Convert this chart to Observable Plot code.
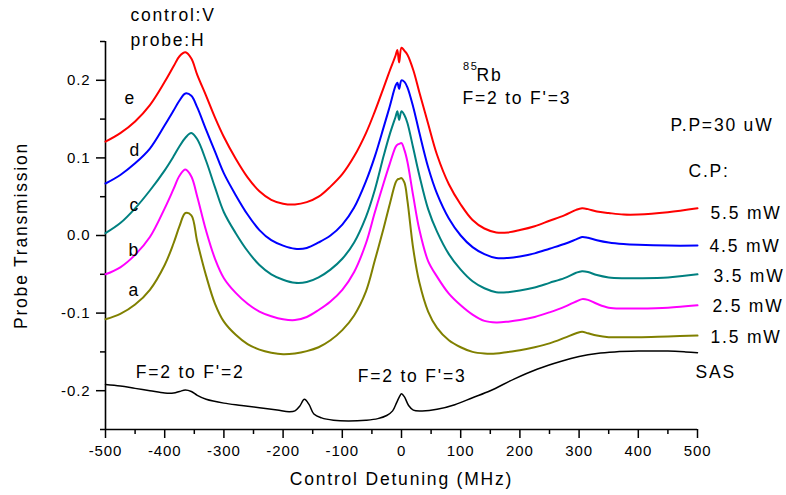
<!DOCTYPE html>
<html>
<head>
<meta charset="utf-8">
<script src="https://cdn.jsdelivr.net/npm/d3@7"></script>
<script src="https://cdn.jsdelivr.net/npm/@observablehq/plot@0.6"></script>
<style>
  html, body { margin: 0; padding: 0; background: #fff; }
  svg text { letter-spacing: 1.8px; }
  svg g[aria-label$="tick label"] text { letter-spacing: 0.9px; }
</style>
</head>
<body>
<div id="chart"></div>
<script>
// Shared detuning grid (MHz) for the five transmission curves
const detuning = [-500,-475,-450,-425,-400,-385,-375,-365,-355,-345,-330,-315,-300,-280,-260,-240,-220,-200,-180,-160,-140,-120,-100,-80,-60,-45,-30,-20,-10,-7,-4,0,5,10,20,30,45,60,80,100,120,140,160,180,200,225,250,275,295,305,315,330,350,375,400,450,500];

// e : 5.5 mW
const curveE = [0.121,0.132,0.147,0.168,0.198,0.218,0.231,0.236,0.228,0.207,0.180,0.152,0.127,0.099,0.075,0.057,0.046,0.041,0.040,0.043,0.050,0.063,0.079,0.102,0.132,0.160,0.191,0.212,0.232,0.239,0.223,0.242,0.238,0.233,0.213,0.185,0.144,0.104,0.066,0.040,0.020,0.009,0.004,0.004,0.007,0.012,0.019,0.026,0.033,0.035,0.034,0.031,0.029,0.027,0.027,0.030,0.035];
// d : 4.5 mW
const curveD = [0.067,0.078,0.093,0.112,0.142,0.161,0.174,0.183,0.180,0.165,0.136,0.108,0.080,0.052,0.027,0.007,-0.006,-0.013,-0.017,-0.016,-0.009,0.000,0.014,0.036,0.070,0.102,0.140,0.166,0.193,0.197,0.189,0.200,0.198,0.191,0.165,0.133,0.088,0.054,0.022,0.000,-0.015,-0.024,-0.029,-0.029,-0.027,-0.023,-0.017,-0.011,-0.005,-0.002,-0.003,-0.006,-0.009,-0.011,-0.012,-0.013,-0.013];
// c : 3.5 mW
const curveC = [0.003,0.016,0.035,0.058,0.084,0.102,0.115,0.126,0.132,0.124,0.096,0.062,0.030,0.003,-0.020,-0.038,-0.050,-0.057,-0.061,-0.060,-0.054,-0.044,-0.030,-0.009,0.024,0.059,0.103,0.130,0.153,0.160,0.149,0.160,0.155,0.145,0.112,0.078,0.034,0.005,-0.024,-0.044,-0.059,-0.068,-0.073,-0.073,-0.071,-0.067,-0.061,-0.055,-0.048,-0.046,-0.047,-0.051,-0.054,-0.055,-0.055,-0.054,-0.050];
// b : 2.5 mW
const curveB = [-0.050,-0.041,-0.025,-0.002,0.035,0.060,0.077,0.085,0.076,0.050,0.006,-0.030,-0.055,-0.074,-0.088,-0.098,-0.104,-0.108,-0.109,-0.105,-0.096,-0.085,-0.070,-0.047,-0.010,0.030,0.068,0.092,0.114,0.117,0.118,0.119,0.110,0.095,0.050,0.008,-0.033,-0.053,-0.075,-0.090,-0.102,-0.110,-0.112,-0.111,-0.109,-0.105,-0.099,-0.092,-0.085,-0.082,-0.083,-0.088,-0.093,-0.094,-0.094,-0.093,-0.090];
// a : 1.5 mW
const curveA = [-0.108,-0.101,-0.089,-0.070,-0.038,-0.010,0.012,0.029,0.026,-0.008,-0.052,-0.088,-0.111,-0.128,-0.140,-0.147,-0.151,-0.153,-0.152,-0.149,-0.144,-0.135,-0.122,-0.103,-0.072,-0.032,0.010,0.040,0.068,0.072,0.073,0.074,0.068,0.045,-0.018,-0.060,-0.098,-0.119,-0.135,-0.144,-0.150,-0.152,-0.152,-0.150,-0.148,-0.144,-0.139,-0.132,-0.126,-0.124,-0.126,-0.129,-0.131,-0.131,-0.131,-0.130,-0.129];

// Saturated absorption spectrum
const sasDetuning = [-500,-475,-450,-425,-400,-385,-375,-365,-355,-345,-330,-300,-270,-240,-210,-190,-180,-172,-164,-156,-148,-135,-115,-90,-60,-40,-25,-15,-8,-3,0,5,12,20,35,60,90,120,150,190,230,270,300,330,360,400,450,480,500];
const sasValues = [-0.192,-0.194,-0.197,-0.200,-0.203,-0.203,-0.201,-0.199,-0.201,-0.206,-0.211,-0.216,-0.219,-0.222,-0.225,-0.227,-0.226,-0.220,-0.211,-0.218,-0.230,-0.235,-0.238,-0.239,-0.238,-0.236,-0.232,-0.226,-0.215,-0.207,-0.204,-0.208,-0.219,-0.225,-0.226,-0.224,-0.218,-0.209,-0.200,-0.185,-0.172,-0.162,-0.156,-0.152,-0.150,-0.149,-0.149,-0.150,-0.151];

const seriesNames = ["e", "d", "c", "b", "a"];
const seriesColors = ["#ff0000", "#0000ff", "#008080", "#ff00ff", "#808000"];
const seriesValues = [curveE, curveD, curveC, curveB, curveA];

const xMajorTicks = [-500,-400,-300,-200,-100,0,100,200,300,400,500];
const xMinorTicks = [-450,-350,-250,-150,-50,50,150,250,350,450];
const yMajorTicks = [-0.2,-0.1,0.0,0.1,0.2];
const yMinorTicks = [-0.25,-0.15,-0.05,0.05,0.15,0.25];

const seriesMarks = seriesValues.map((vals, k) =>
  Plot.line(detuning.map((x, i) => ({x, y: vals[i]})), {
    x: "x", y: "y", stroke: seriesColors[k], strokeWidth: 2, curve: "catmull-rom"
  })
);

const sasRows = sasDetuning.map((x, i) => ({x, y: sasValues[i]}));

// annotations: [text, x (MHz), y (transmission)]
const notes = [
  ["control:V", -457.8, 0.2758],
  ["probe:H", -457.8, 0.2448],
  ["e", -468, 0.170],
  ["d", -459.5, 0.103],
  ["c", -459.5, 0.032],
  ["b", -461, -0.026],
  ["a", -461, -0.0786],
  ["F=2 to F'=2", -449, -0.184],
  ["F=2 to F'=3", -74, -0.189],
  ["Rb", 126.7, 0.1985],
  ["F=2 to F'=3", 103, 0.170],
  ["P.P=30 uW", 454.4, 0.1353],
  ["C.P:", 484.8, 0.076],
  ["5.5 mW", 522, 0.0219],
  ["4.5 mW", 520.3, -0.0219],
  ["3.5 mW", 527, -0.0593],
  ["2.5 mW", 525.3, -0.0992],
  ["1.5 mW", 522, -0.1379],
  ["SAS", 496.6, -0.183]
];
const superNotes = [["85", 103.7, 0.2139]];

const chart = Plot.plot({
  width: 786,
  height: 495,
  marginLeft: 105,
  marginRight: 89,
  marginTop: 41,
  marginBottom: 66,
  style: {fontFamily: "'Liberation Sans', Arial, sans-serif", color: "#000", background: "#fff"},
  x: {domain: [-500, 500]},
  y: {domain: [-0.25, 0.25]},
  marks: [
    Plot.axisX({ticks: xMajorTicks, tickSize: 9, tickPadding: 7, tickFormat: d => String(d), fontSize: 15, label: null, strokeWidth: 1.5}),
    Plot.axisX({ticks: xMinorTicks, tickSize: 5, tickFormat: () => "", label: null, strokeWidth: 1.5}),
    Plot.axisY({ticks: yMajorTicks, tickSize: 9, tickPadding: 6, tickFormat: d => d.toFixed(1), fontSize: 15, label: null, strokeWidth: 1.5}),
    Plot.axisY({ticks: yMinorTicks, tickSize: 5, tickFormat: () => "", label: null, strokeWidth: 1.5}),
    Plot.ruleX([-500], {stroke: "#000", strokeWidth: 1.6}),
    Plot.ruleY([-0.25], {stroke: "#000", strokeWidth: 1.6}),
    ...seriesMarks,
    Plot.line(sasRows, {x: "x", y: "y", stroke: "#000", strokeWidth: 1.5, curve: "catmull-rom"}),
    Plot.text(notes, {x: d => d[1], y: d => d[2], text: d => d[0], textAnchor: "start", lineAnchor: "bottom", fontSize: 17.5, fill: "#000"}),
    Plot.text(superNotes, {x: d => d[1], y: d => d[2], text: d => d[0], textAnchor: "start", lineAnchor: "bottom", fontSize: 11, fill: "#000"}),
    Plot.text(["Probe Transmission"], {frameAnchor: "left", dx: -84, rotate: -90, textAnchor: "middle", lineAnchor: "middle", fontSize: 17.5, fill: "#000"}),
    Plot.text(["Control Detuning (MHz)"], {frameAnchor: "bottom", dy: 50, textAnchor: "middle", lineAnchor: "middle", fontSize: 17.5, fill: "#000"})
  ]
});
document.getElementById("chart").appendChild(chart);
</script>
</body>
</html>
